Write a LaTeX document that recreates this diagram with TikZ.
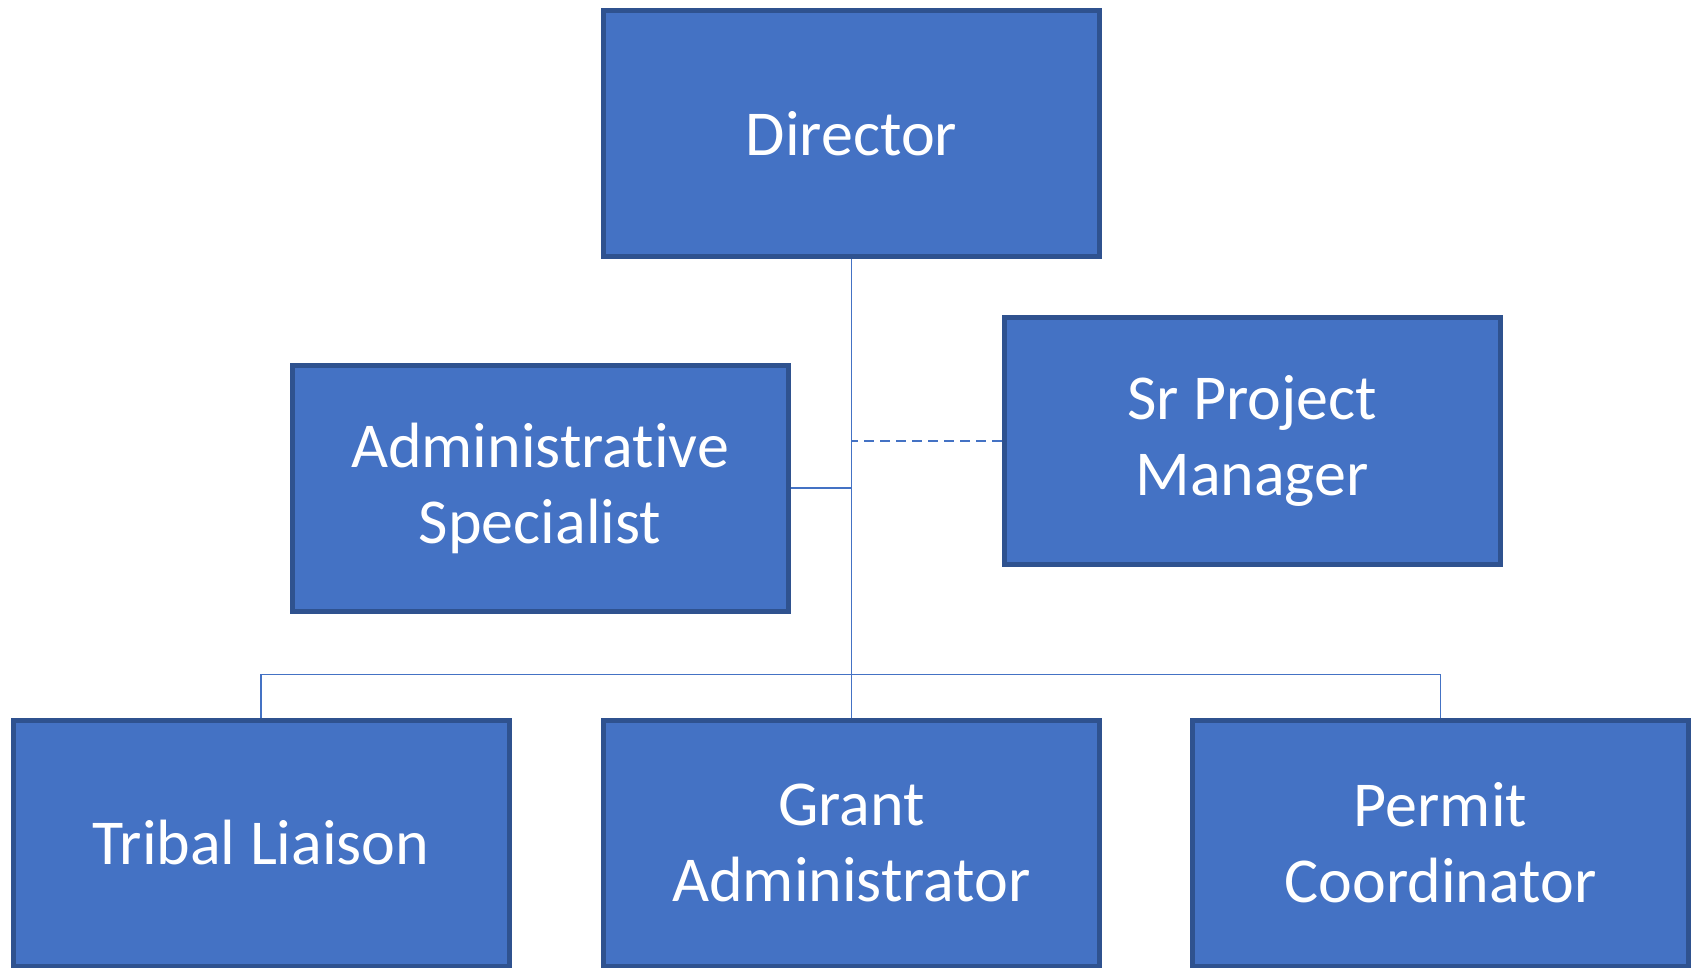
\documentclass[tikz,border=0pt]{standalone}
\usepackage{fontspec}
\setmainfont[Ligatures=NoCommon]{Carlito}
\usepackage{tikz}
\usetikzlibrary{
    positioning,           % Relative positioning
    calc                   % Coordinate calculations
}
\definecolor{officeblue}{HTML}{4472C4}
\definecolor{officeedge}{HTML}{2F528F}
\tikzset{unitbox/.style={
    draw=officeedge, fill=officeblue, line width=2.5pt,
    minimum width=248pt, minimum height=123pt,
    text=white, align=center,
    font=\fontsize{32}{38}\selectfont
}}
\tikzset{link/.style={draw=officeblue, line width=0.75pt}}

\begin{document}
\begin{tikzpicture}[x=0.5pt,y=-0.5pt]
    \useasboundingbox (0,0) rectangle (1692,968);
    \node[unitbox] (director) at (851.5,134) {Director};
    \node[unitbox] (admin) at (540,488) {Administrative\\Specialist};
    \node[unitbox] (srpm) at (1252,441) {Sr Project\\Manager};
    \node[unitbox] (tribal) at (261,843) {Tribal Liaison};
    \node[unitbox] (grant) at (851.5,843) {Grant\\Administrator};
    \node[unitbox] (permit) at (1440.5,843) {Permit\\Coordinator};
    \coordinate (bus) at (851.5,674.5);
    \draw[link] (director.south) -- (grant.north);
    \draw[link] (admin.east) -- (admin.east -| director.south);
    \draw[link, dash pattern=on 5pt off 3pt] (srpm.west) -- (srpm.west -| director.south);
    \draw[link] (tribal.north) |- (bus) -| (permit.north);
\end{tikzpicture}
\end{document}
